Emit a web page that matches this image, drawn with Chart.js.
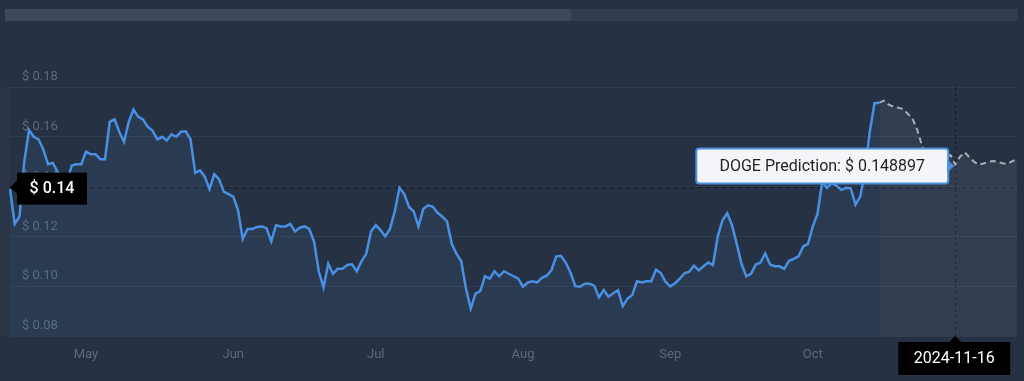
<!DOCTYPE html>
<html>
<head>
<meta charset="utf-8">
<script src="https://cdn.jsdelivr.net/npm/chart.js@4.4.1/dist/chart.umd.min.js"></script>
<style>
  html, body { margin: 0; padding: 0; background: #263244; }
  #wrap { position: relative; width: 1024px; height: 381px; }
  #track { position: absolute; left: 5px; top: 9px; width: 1013px; height: 12px; background: #313d4f; }
  #thumb { position: absolute; left: 0; top: 0; width: 566px; height: 12px; background: #3d495b; }
  canvas { position: absolute; left: 0; top: 0; }
</style>
</head>
<body>
<div id="wrap">
  <div id="track"><div id="thumb"></div></div>
  <canvas id="dogeChart" width="1024" height="381"></canvas>
</div>
<script>
// daily closes from 2024-04-15 to 2024-10-15
const startDate = '2024-04-15';
const history = [
  0.139, 0.125, 0.128, 0.150, 0.1627, 0.160, 0.159, 0.155, 0.149, 0.1495,
  0.146, 0.1425, 0.142, 0.1485, 0.149, 0.149, 0.154, 0.153, 0.153, 0.151,
  0.151, 0.166, 0.167, 0.162, 0.158, 0.166, 0.171, 0.168, 0.167, 0.164,
  0.1625, 0.159, 0.160, 0.1585, 0.161, 0.160, 0.162, 0.1622, 0.159, 0.1455,
  0.1465, 0.144, 0.139, 0.145, 0.143, 0.138, 0.137, 0.136, 0.1306, 0.119,
  0.123, 0.123, 0.1238, 0.124, 0.1233, 0.118, 0.1245, 0.124, 0.124, 0.125,
  0.122, 0.1235, 0.124, 0.123, 0.118, 0.106, 0.0995, 0.109, 0.105, 0.107,
  0.107, 0.1085, 0.1088, 0.106, 0.110, 0.113, 0.122, 0.1245, 0.1225, 0.120,
  0.123, 0.130, 0.1395, 0.137, 0.1318, 0.130, 0.124, 0.131, 0.1325, 0.132,
  0.1295, 0.128, 0.126, 0.117, 0.113, 0.110, 0.099, 0.091, 0.097, 0.098,
  0.104, 0.103, 0.106, 0.104, 0.106, 0.105, 0.104, 0.103, 0.0998, 0.1015,
  0.102, 0.1015, 0.1034, 0.1042, 0.1065, 0.112, 0.1122, 0.1095, 0.1055, 0.100,
  0.0998, 0.101, 0.101, 0.1002, 0.0955, 0.0985, 0.0958, 0.0972, 0.0984, 0.092,
  0.095, 0.0965, 0.102, 0.1015, 0.102, 0.102, 0.1066, 0.1053, 0.1018, 0.0999,
  0.1012, 0.103, 0.1052, 0.1058, 0.1083, 0.1064, 0.108, 0.1095, 0.1085, 0.120,
  0.1265, 0.1293, 0.1245, 0.117, 0.109, 0.104, 0.105, 0.1087, 0.1095, 0.1132,
  0.1087, 0.108, 0.108, 0.107, 0.1102, 0.111, 0.112, 0.116, 0.117, 0.124,
  0.129, 0.142, 0.1394, 0.1415, 0.1403, 0.1387, 0.1395, 0.1393, 0.1328, 0.136,
  0.146, 0.162, 0.1735, 0.1737
];
// forecast, one point every 2 days, starting at the last close
const predictionStep = 2;
const prediction = [
  0.1737, 0.1745, 0.1729, 0.1721, 0.1717, 0.1712, 0.1693, 0.1673, 0.1628, 0.1565,
  0.153, 0.152, 0.1515, 0.1515, 0.152, 0.1527, 0.148897, 0.152, 0.1538, 0.1517,
  0.1499, 0.1488, 0.1493, 0.150, 0.1503, 0.1499, 0.1494, 0.1491, 0.1502, 0.151
];
const yTicks = [0.08, 0.10, 0.12, 0.14, 0.16, 0.18];
const monthNames = ['Jan', 'Feb', 'Mar', 'Apr', 'May', 'Jun', 'Jul', 'Aug', 'Sep', 'Oct', 'Nov', 'Dec'];
const crossPrice = 0.14;
const crossDate = '2024-11-16';

function fmt(d) {
  return d.toISOString().slice(0, 10);
}

const labels = [];
let d = new Date(startDate + 'T00:00:00Z');
for (let i = 0; i < history.length; i++) {
  labels.push(fmt(d));
  d.setUTCDate(d.getUTCDate() + 1);
}
d.setUTCDate(d.getUTCDate() - 1);
for (let i = 1; i < prediction.length; i++) {
  d.setUTCDate(d.getUTCDate() + predictionStep);
  labels.push(fmt(d));
}

const lastHist = history.length - 1;
const histData = history.concat(Array(prediction.length - 1).fill(null));
const predData = Array(lastHist).fill(null).concat(prediction);
const crossIndex = labels.indexOf(crossDate);

const overlay = {
  id: 'overlay',
  beforeDatasetsDraw(chart) {
    const { ctx, chartArea: a, scales: { x, y } } = chart;
    ctx.save();
    ctx.fillStyle = 'rgba(255,255,255,0.02)';
    ctx.fillRect(0, a.top, a.left, a.bottom - a.top);
    ctx.strokeStyle = '#141b26';
    ctx.lineWidth = 1;
    ctx.setLineDash([4, 4]);
    const py = Math.round(y.getPixelForValue(crossPrice)) + 0.5;
    ctx.beginPath(); ctx.moveTo(a.left, py); ctx.lineTo(a.right, py); ctx.stroke();
    const px = Math.round(x.getPixelForValue(crossIndex)) + 0.5;
    ctx.setLineDash([3, 3]);
    ctx.beginPath(); ctx.moveTo(px, a.top); ctx.lineTo(px, a.bottom); ctx.stroke();
    ctx.restore();
  },
  afterDraw(chart) {
    const { ctx, chartArea: a, scales: { x, y } } = chart;
    const py = y.getPixelForValue(crossPrice);
    const px = x.getPixelForValue(crossIndex);
    const pv = predData[crossIndex];
    const vy = y.getPixelForValue(pv);
    ctx.save();
    ctx.textAlign = 'center';
    ctx.textBaseline = 'middle';

    // price tag on the left
    ctx.fillStyle = '#000';
    ctx.fillRect(a.left + 7, py - 14, 70, 32);
    ctx.beginPath();
    ctx.moveTo(a.left + 7, py - 6); ctx.lineTo(a.left, py + 1); ctx.lineTo(a.left + 7, py + 7);
    ctx.fill();
    ctx.fillStyle = '#fff';
    ctx.font = '500 16px Roboto';
    ctx.fillText('$ ' + crossPrice.toFixed(2), a.left + 42, py + 2);

    // prediction tooltip
    const bw = 252, bh = 35;
    const bx = px - 7 - bw, by = vy - 16;
    ctx.beginPath();
    ctx.roundRect(bx, by, bw, bh, 3);
    ctx.fillStyle = '#f3f5f8';
    ctx.fill();
    ctx.lineWidth = 2;
    ctx.strokeStyle = '#4a8fe0';
    ctx.stroke();
    ctx.beginPath();
    ctx.moveTo(px - 8, vy - 5); ctx.lineTo(px - 1, vy + 1.5); ctx.lineTo(px - 8, vy + 8);
    ctx.closePath();
    ctx.fillStyle = '#4a8fe0';
    ctx.fill();
    ctx.fillStyle = '#1e1f22';
    ctx.font = '16px Roboto';
    ctx.fillText('DOGE Prediction: $ ' + pv.toFixed(6), bx + bw / 2, by + bh / 2 + 1);

    // date tag below the axis
    ctx.fillStyle = '#000';
    ctx.fillRect(px - 57, a.bottom + 6, 112, 33);
    ctx.beginPath();
    ctx.moveTo(px - 6, a.bottom + 6); ctx.lineTo(px, a.bottom); ctx.lineTo(px + 6, a.bottom + 6);
    ctx.fill();
    ctx.fillStyle = '#fff';
    ctx.font = '16px Roboto';
    ctx.fillText(crossDate, px - 1, a.bottom + 23);
    ctx.restore();
  }
};

new Chart(document.getElementById('dogeChart'), {
  type: 'line',
  data: {
    labels: labels,
    datasets: [{
      label: 'DOGE',
      data: histData,
      borderColor: '#4a90e2',
      borderWidth: 2.5,
      backgroundColor: 'rgba(74, 144, 226, 0.09)',
      fill: 'start',
      pointRadius: 0,
      tension: 0
    }, {
      label: 'DOGE Prediction',
      data: predData,
      borderColor: '#a9aeb6',
      borderWidth: 2,
      borderDash: [6, 4],
      backgroundColor: 'rgba(210, 220, 235, 0.07)',
      fill: 'start',
      pointRadius: 0,
      tension: 0
    }]
  },
  options: {
    responsive: false,
    animation: false,
    layout: { padding: { left: 10, right: 7, top: 87, bottom: 15 } },
    plugins: {
      legend: { display: false },
      tooltip: { enabled: false }
    },
    scales: {
      x: {
        grid: { display: false },
        border: { display: false },
        afterFit: function (axis) { axis.height = 30; },
        ticks: {
          autoSkip: false,
          maxRotation: 0,
          padding: 3,
          color: '#5b697c',
          font: { family: 'Roboto', size: 13 },
          callback: function (value, index) {
            const l = labels[index];
            if (index <= lastHist && l.slice(8) === '01') {
              return monthNames[parseInt(l.slice(5, 7), 10) - 1];
            }
            return '';
          }
        }
      },
      y: {
        min: yTicks[0],
        max: yTicks[yTicks.length - 1],
        afterBuildTicks: function (axis) {
          axis.ticks = yTicks.map(v => ({ value: v }));
        },
        afterFit: function (axis) { axis.width = 0; },
        grid: { color: 'rgba(255,255,255,0.06)', drawTicks: false },
        border: { display: false },
        ticks: {
          mirror: true,
          padding: 12,
          labelOffset: -10,
          color: '#5b697c',
          font: { family: 'Roboto', size: 13 },
          callback: v => '$ ' + v.toFixed(2)
        }
      }
    }
  },
  plugins: [overlay]
});
</script>
</body>
</html>
